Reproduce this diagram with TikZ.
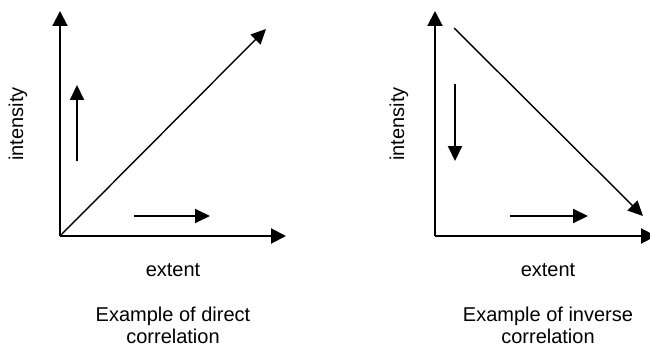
\documentclass[tikz,border=0pt]{standalone}
\usepackage{fontspec}
\setmainfont{Liberation Sans}
\usetikzlibrary{positioning, arrows.meta}

\tikzset{
  axis/.style={line width=2pt, -{Triangle[length=15pt, width=15pt]}},
  trend/.style={line width=1.4pt, -{Triangle[length=15pt, width=14pt]}},
  hint/.style={line width=2pt, -{Triangle[length=15pt, width=14pt]}},
  lbl/.style={inner sep=0pt, align=center}
}

\begin{document}
\begin{tikzpicture}[x=1pt, y=-1pt, font=\fontsize{20}{22}\selectfont]
  \useasboundingbox (0,0) rectangle (650,350);

  % direct correlation
  \coordinate (dO) at (60,236);
  \coordinate (dY) at (60,11);
  \coordinate (dX) at (286,236);
  \draw[axis] (dO) -- (dY);
  \draw[axis] (dO) -- (dX);
  \coordinate (dT) at (266,29);
  \draw[trend] (dO) -- (dT);
  \coordinate (dUa) at (77,161);
  \coordinate (dUb) at (77,85);
  \draw[hint] (dUa) -- (dUb);
  \coordinate (dRa) at (134,216);
  \coordinate (dRb) at (210,216);
  \draw[hint] (dRa) -- (dRb);
  \node[lbl, rotate=90] (dInt) at (18,124) {intensity};
  \node[lbl] (dExt) at (173,270) {extent};
  \node[lbl] (dCap) at (173,325) {Example of direct\\correlation};

  % inverse correlation
  \coordinate (iO) at (435,236);
  \coordinate (iY) at (435,11);
  \coordinate (iX) at (656,236);
  \draw[axis] (iO) -- (iY);
  \draw[axis] (iO) -- (iX);
  \coordinate (iTa) at (454,28);
  \coordinate (iTb) at (643,216);
  \draw[trend] (iTa) -- (iTb);
  \coordinate (iDa) at (455,84);
  \coordinate (iDb) at (455,161);
  \draw[hint] (iDa) -- (iDb);
  \coordinate (iRa) at (510,216);
  \coordinate (iRb) at (588,216);
  \draw[hint] (iRa) -- (iRb);
  \node[lbl, rotate=90] (iInt) at (399,124) {intensity};
  \node[lbl] (iExt) at (548,270) {extent};
  \node[lbl] (iCap) at (548,325) {Example of inverse\\correlation};
\end{tikzpicture}
\end{document}
